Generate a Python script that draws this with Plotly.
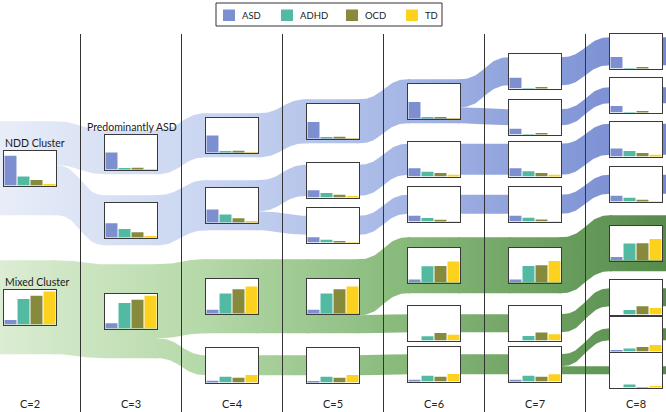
import plotly.graph_objects as go

W, H = 666, 412

# ---------------- data ----------------
diagnoses = ["ASD", "ADHD", "OCD", "TD"]
column_labels = ["C=2", "C=3", "C=4", "C=5", "C=6", "C=7", "C=8"]
clusters_per_column = [2, 3, 4, 5, 6, 7, 8]

# share of each diagnosis in every cluster (percent of inset height), clusters ordered column by column, top to bottom
asd_pct = [86, 13,
           49, 41, 15,
           49, 38, 11, 5,
           48, 21, 15, 11, 3,
           48, 24, 17, 9, 0, 5,
           31, 17, 24, 17, 9, 0, 5,
           33, 19, 23, 17, 10, 0, 2, 0]
adhd_pct = [26, 74,
            3, 25, 74,
            2, 23, 58, 17,
            2, 13, 8, 58, 17,
            2, 14, 10, 47, 12, 17,
            1, 1, 15, 11, 48, 13, 17,
            1, 1, 16, 11, 49, 13, 9, 9]
ocd_pct = [16, 83,
           5, 15, 83,
           5, 12, 70, 14,
           5, 8, 4, 70, 14,
           4, 10, 5, 48, 22, 14,
           3, 2, 10, 6, 50, 23, 14,
           4, 3, 10, 5, 50, 24, 13, 1]
td_pct = [4, 96,
          1, 4, 95,
          0.5, 3, 78, 22,
          0.5, 3, 1, 78, 22,
          0.5, 5, 1, 61, 17, 22,
          0, 0, 5, 1, 62, 18, 21,
          0, 0, 5, 1, 62, 19, 19, 3]
# relative cluster sizes (flow widths) and the cluster each one splits from
cluster_size = [94, 94,
                44, 50, 94,
                44, 50, 74, 20,
                44, 31, 19, 74, 20,
                44, 31, 19, 56, 18, 20,
                28, 16, 31, 19, 56, 18, 20,
                28, 16, 31, 19, 56, 18, 12, 8]
cluster_parent = [-1, -1,
                  0, 0, 1,
                  2, 3, 4, 4,
                  5, 6, 6, 7, 8,
                  9, 10, 11, 12, 12, 13,
                  14, 14, 15, 16, 17, 18, 19,
                  20, 21, 22, 23, 24, 25, 26, 26]
cluster_names = {0: "NDD Cluster", 1: "Mixed Cluster", 2: "Predominantly ASD"}

# ---------------- layout (pixels) ----------------
BOX_W, BOX_H = 52, 34.5
box_left = [4, 105, 206, 307, 408, 509, 610]
box_top = [151, 290,
           135, 203, 294,
           118, 188, 279, 348,
           104, 163, 208, 279, 348,
           84, 142, 187, 248, 306, 347,
           54, 100, 142, 187, 248, 306, 347,
           34, 78, 122, 167, 226, 280, 317, 353]
diag_colors = ["#7d8fcf", "#52b9a2", "#878a3c", "#fdd21f"]
blue_scale = [[0, "#e8edf8"], [0.3, "#cad6f1"], [0.6, "#a6b7e6"], [1, "#7388cf"]]
green_scale = [[0, "#dbedd3"], [0.3, "#b6d9a9"], [0.6, "#88ba7b"], [1, "#568b4b"]]
line_color = "#333333"
font_family = "Lato, 'Open Sans', sans-serif"

n = len(asd_pct)
col = []
for c, cnt in enumerate(clusters_per_column):
    col += [c] * cnt

def root(k):
    while cluster_parent[k] >= 0:
        k = cluster_parent[k]
    return k

center = [box_top[k] + BOX_H / 2 for k in range(n)]
band = [(center[k] - cluster_size[k] / 2, center[k] + cluster_size[k] / 2) for k in range(n)]

def xl(k):
    return 0 if col[k] == 0 else box_left[col[k]]

def xr(k):
    return W if col[k] == len(clusters_per_column) - 1 else box_left[col[k]] + BOX_W

def bez(p0, p1, p2, p3, t):
    return ((1 - t) ** 3) * p0 + 3 * ((1 - t) ** 2) * t * p1 + 3 * (1 - t) * t * t * p2 + t ** 3 * p3

polys = []
for k in range(n):
    x0, x1 = xl(k), xr(k)
    y0, y1 = band[k]
    polys.append(([x0, x1, x1, x0, x0], [y0, y0, y1, y1, y0], root(k)))

for p in range(n):
    kids = sorted([k for k in range(n) if cluster_parent[k] == p], key=lambda k: center[k])
    y = band[p][0]
    for k in kids:
        a0, a1 = y, y + cluster_size[k]
        y = a1
        b0, b1 = band[k]
        xs, xt = xr(p), xl(k)
        m = (xs + xt) / 2
        N = 40
        tx, ty, bx, by = [xs - 2], [a0], [], []
        for i in range(N + 1):
            t = i / N
            tx.append(bez(xs, m, m, xt, t))
            ty.append(bez(a0, a0, b0, b0, t))
        tx.append(xt + 2)
        ty.append(b0)
        bx.append(xt + 2)
        by.append(b1)
        for i in range(N, -1, -1):
            t = i / N
            bx.append(bez(xs, m, m, xt, t))
            by.append(bez(a1, a1, b1, b1, t))
        bx.append(xs - 2)
        by.append(a1)
        polys.append((tx + bx + [tx[0]], ty + by + [ty[0]], root(k)))

fig = go.Figure()

for px, py, r in polys:
    fig.add_trace(go.Scatter(
        x=px, y=py, mode="lines", fill="toself",
        line=dict(width=0, color="rgba(0,0,0,0)"),
        fillgradient=dict(type="horizontal", colorscale=blue_scale if r == 0 else green_scale,
                          start=0, stop=W),
        hoverinfo="skip", showlegend=False, xaxis="x", yaxis="y"))

layout_axes = {}
for k in range(n):
    a = k + 2
    x0 = box_left[col[k]]
    fig.add_trace(go.Bar(x=[1.5], y=[100], width=[4], marker=dict(color="white", line=dict(width=0)),
                         hoverinfo="skip", showlegend=False, xaxis=f"x{a}", yaxis=f"y{a}"))
    fig.add_trace(go.Bar(x=[0, 1, 2, 3], y=[asd_pct[k], adhd_pct[k], ocd_pct[k], td_pct[k]],
                         width=0.92, marker=dict(color=diag_colors, line=dict(width=0)),
                         hovertext=diagnoses, showlegend=False, xaxis=f"x{a}", yaxis=f"y{a}"))
    common = dict(showticklabels=False, ticks="", showgrid=False, zeroline=False,
                  showline=True, mirror=True, linecolor="#3a3a3a", linewidth=1, fixedrange=True)
    layout_axes[f"xaxis{a}"] = dict(domain=[x0 / W, (x0 + BOX_W) / W], anchor=f"y{a}",
                                    range=[-0.5, 3.5], **common)
    layout_axes[f"yaxis{a}"] = dict(domain=[1 - (box_top[k] + BOX_H) / H, 1 - box_top[k] / H],
                                    anchor=f"x{a}", range=[0, 100], **common)

shapes = []
for c in range(1, len(clusters_per_column)):
    xv = (box_left[c - 1] + BOX_W + box_left[c]) / 2
    shapes.append(dict(type="line", xref="x", yref="y", x0=xv, x1=xv, y0=34, y1=H,
                       line=dict(color=line_color, width=1), layer="above"))

# legend
shapes.append(dict(type="rect", xref="x", yref="y", x0=216, x1=442, y0=3, y1=26,
                   line=dict(color=line_color, width=1), fillcolor="white", layer="above"))
legend_sq = [223, 281, 346, 406]
annotations = []
for i, d in enumerate(diagnoses):
    shapes.append(dict(type="rect", xref="x", yref="y", x0=legend_sq[i], x1=legend_sq[i] + 12,
                       y0=9.5, y1=21, line=dict(width=0), fillcolor=diag_colors[i], layer="above"))
    annotations.append(dict(x=legend_sq[i] + 17, y=15.5, xref="x", yref="y", text=d, showarrow=False,
                            xanchor="left", yanchor="middle",
                            font=dict(family=font_family, size=9.5, color="#222222")))

for c, lab in enumerate(column_labels):
    annotations.append(dict(x=box_left[c] + BOX_W / 2, y=403, xref="x", yref="y", text=lab,
                            showarrow=False, xanchor="center", yanchor="middle",
                            font=dict(family=font_family, size=11, color="#222222")))

label_pos = {0: (3, 143), 1: (3, 282), 2: (85, 127)}
for k, name in cluster_names.items():
    annotations.append(dict(x=label_pos[k][0], y=label_pos[k][1], xref="x", yref="y", text=name,
                            showarrow=False, xanchor="left", yanchor="middle",
                            font=dict(family=font_family, size=10.5, color="#1a1a1a")))

fig.update_layout(
    width=W, height=H, autosize=False,
    margin=dict(l=0, r=0, t=0, b=0),
    paper_bgcolor="white", plot_bgcolor="rgba(0,0,0,0)",
    barmode="overlay", showlegend=False,
    xaxis=dict(domain=[0, 1], range=[0, W], visible=False, fixedrange=True),
    yaxis=dict(domain=[0, 1], range=[H, 0], visible=False, fixedrange=True),
    shapes=shapes, annotations=annotations,
    **layout_axes,
)

fig.write_html("out.html", config={"displayModeBar": False},
               post_script="document.body.style.margin='0px';document.body.style.padding='0px';document.body.style.overflow='hidden';")
